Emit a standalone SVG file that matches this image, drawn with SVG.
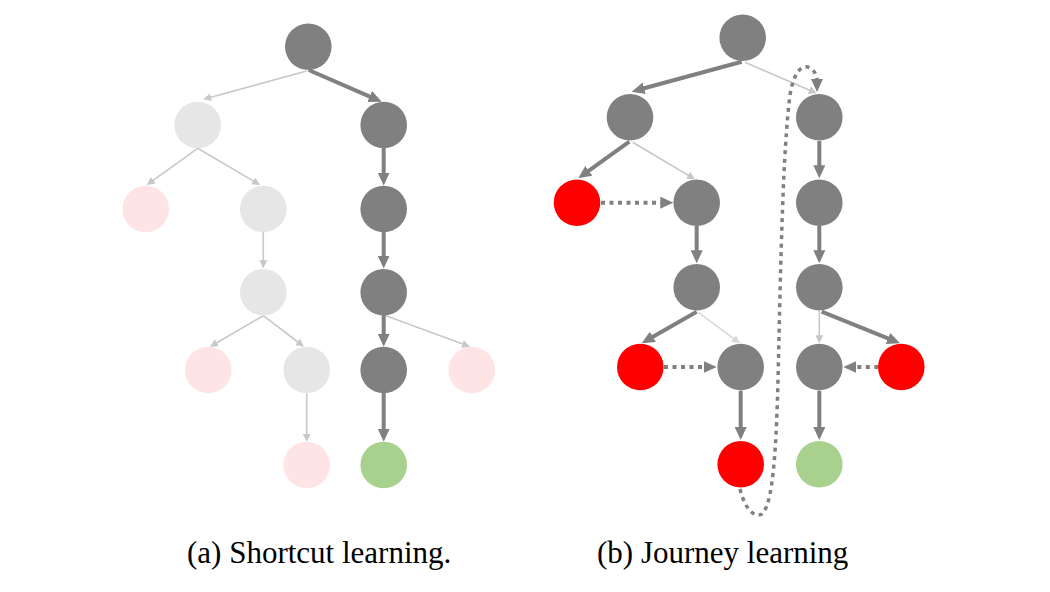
<svg xmlns="http://www.w3.org/2000/svg" width="1050" height="592" viewBox="0 0 1050 592">
<style>
.dk{fill:#808080}.lg{fill:#e6e6e6}.pk{fill:#ffe4e6}.rd{fill:#ff0000}.gr{fill:#a9d18e}
.thick{stroke:#808080;stroke-width:4;fill:none;marker-end:url(#ah)}
.thin{stroke:#c8c8c8;stroke-width:1.6;fill:none;marker-end:url(#at)}
.thin2{stroke:#d9d9d9;stroke-width:1.6;fill:none;marker-end:url(#at2)}
.dot{stroke:#808080;stroke-width:4;fill:none;stroke-dasharray:4 4.5;marker-end:url(#ah)}
.cap{font-family:"Liberation Serif","Times New Roman",serif;font-size:31px;fill:#000}
</style>
<defs>
<marker id="ah" markerUnits="userSpaceOnUse" markerWidth="13" markerHeight="12" refX="2" refY="6" orient="auto"><path d="M0,0 L13,6 L0,12 z" fill="#808080"/></marker>
<marker id="at" markerUnits="userSpaceOnUse" markerWidth="8" markerHeight="8" refX="1" refY="4" orient="auto"><path d="M0,0 L8,4 L0,8 z" fill="#c8c8c8"/></marker>
<marker id="at2" markerUnits="userSpaceOnUse" markerWidth="8" markerHeight="8" refX="1" refY="4" orient="auto"><path d="M0,0 L8,4 L0,8 z" fill="#d9d9d9"/></marker>
</defs>
<g id="connectors">
<line class="thin" x1="306.7" y1="71" x2="210" y2="97.5"/>
<line class="thick" x1="308.7" y1="70" x2="371.6" y2="97.3"/>
<line class="thin" x1="197.7" y1="148.3" x2="152.4" y2="180.9"/>
<line class="thin" x1="197.7" y1="148.3" x2="254" y2="181.4"/>
<line class="thin" x1="263.3" y1="232" x2="263.3" y2="261.3"/>
<line class="thick" x1="383.7" y1="148" x2="383.7" y2="174.5"/>
<line class="thick" x1="383.7" y1="232" x2="383.7" y2="257.5"/>
<line class="thin" x1="263.3" y1="315.7" x2="216" y2="343.2"/>
<line class="thin" x1="263.3" y1="315.7" x2="298.4" y2="342.5"/>
<line class="thick" x1="383.7" y1="315" x2="383.7" y2="335.7"/>
<line class="thin" x1="386" y1="315.7" x2="463.4" y2="344.3"/>
<line class="thin" x1="306.7" y1="393.3" x2="306.7" y2="434.7"/>
<line class="thick" x1="383.7" y1="393" x2="383.7" y2="430.7"/>
<line class="thick" x1="741.7" y1="61.7" x2="642.3" y2="88.8"/>
<line class="thin" x1="745" y1="62.3" x2="810.3" y2="90.5"/>
<line class="thick" x1="629.3" y1="141.7" x2="587.2" y2="171.9"/>
<line class="thin" x1="632.7" y1="142.3" x2="689" y2="175.7"/>
<line class="dot" x1="601" y1="202.7" x2="662.3" y2="202.7"/>
<line class="thick" x1="696.7" y1="226" x2="696.7" y2="252.3"/>
<line class="thick" x1="819.3" y1="141" x2="819.3" y2="167.3"/>
<line class="thick" x1="819.3" y1="226" x2="819.3" y2="252.3"/>
<line class="thick" x1="696.7" y1="311.7" x2="651.2" y2="337.8"/>
<line class="thin2" x1="698.3" y1="312.3" x2="734.4" y2="339.1"/>
<line class="dot" x1="664" y1="367" x2="705.7" y2="367"/>
<line class="thick" x1="740.7" y1="390.7" x2="740.7" y2="429"/>
<line class="thin" x1="819.3" y1="311" x2="819.3" y2="336.3"/>
<line class="thick" x1="821.7" y1="311.7" x2="889.8" y2="339.2"/>
<line class="dot" x1="878.3" y1="367" x2="854.3" y2="367"/>
<line class="thick" x1="819.3" y1="390.7" x2="819.3" y2="429"/>
<path class="dot" style="stroke-width:3.5" d="M740,489 C745,510 755,518 762,514 C772,505 776,460 778,380 C781,250 783,150 790,95 C794,70 803,64 810,68 C815,71 817,76 817,81"/>
</g>
<g id="tree-a">
<g id="a-root"><circle class="dk" cx="308.3" cy="46.7" r="23.3"/></g>
<g id="a-l1"><circle class="lg" cx="197.7" cy="125" r="23.3"/></g>
<g id="a-r1"><circle class="dk" cx="383.7" cy="125" r="23.3"/></g>
<g id="a-l2a"><circle class="pk" cx="145.7" cy="209" r="23.3"/></g>
<g id="a-l2b"><circle class="lg" cx="263.3" cy="209" r="23.3"/></g>
<g id="a-r2"><circle class="dk" cx="383.7" cy="209" r="23.3"/></g>
<g id="a-l3"><circle class="lg" cx="263.3" cy="292.3" r="23.3"/></g>
<g id="a-r3"><circle class="dk" cx="383.7" cy="292.3" r="23.3"/></g>
<g id="a-l4a"><circle class="pk" cx="208.3" cy="370" r="23.3"/></g>
<g id="a-l4b"><circle class="lg" cx="306.7" cy="370" r="23.3"/></g>
<g id="a-r4"><circle class="dk" cx="383.7" cy="370" r="23.3"/></g>
<g id="a-r4b"><circle class="pk" cx="471.7" cy="370" r="23.3"/></g>
<g id="a-l5"><circle class="pk" cx="306.7" cy="465" r="23.3"/></g>
<g id="a-goal"><circle class="gr" cx="383.7" cy="465" r="23.3"/></g>
</g>
<g id="tree-b">
<g id="b-root"><circle class="dk" cx="742.7" cy="37.7" r="23.3"/></g>
<g id="b-l1"><circle class="dk" cx="630" cy="117.3" r="23.3"/></g>
<g id="b-r1"><circle class="dk" cx="819.3" cy="117.3" r="23.3"/></g>
<g id="b-red1"><circle class="rd" cx="577" cy="202.7" r="23.3"/></g>
<g id="b-l2"><circle class="dk" cx="696.7" cy="202.7" r="23.3"/></g>
<g id="b-r2"><circle class="dk" cx="819.3" cy="202.7" r="23.3"/></g>
<g id="b-l3"><circle class="dk" cx="696.7" cy="287.3" r="23.3"/></g>
<g id="b-r3"><circle class="dk" cx="819.3" cy="287.3" r="23.3"/></g>
<g id="b-red2"><circle class="rd" cx="640.3" cy="367" r="23.3"/></g>
<g id="b-l4"><circle class="dk" cx="740.7" cy="367" r="23.3"/></g>
<g id="b-r4"><circle class="dk" cx="819.3" cy="367" r="23.3"/></g>
<g id="b-red3"><circle class="rd" cx="901.3" cy="367" r="23.3"/></g>
<g id="b-red4"><circle class="rd" cx="740.7" cy="464.3" r="23.3"/></g>
<g id="b-goal"><circle class="gr" cx="819.3" cy="464.3" r="23.3"/></g>
</g>
<g id="captions">
<text class="cap" x="187" y="563">(a) Shortcut learning.</text>
<text class="cap" x="597" y="563">(b) Journey learning</text>
</g>
</svg>
